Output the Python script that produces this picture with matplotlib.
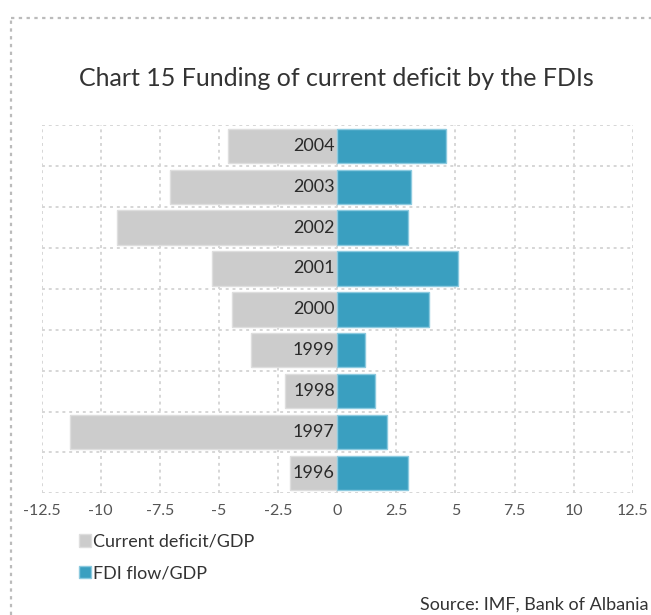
import matplotlib.pyplot as plt
from matplotlib.lines import Line2D
from matplotlib.patches import Patch

years = ["1996", "1997", "1998", "1999", "2000", "2001", "2002", "2003", "2004"]
deficit = [-1.98, -11.3, -2.2, -3.65, -4.46, -5.3, -9.33, -7.07, -4.63]
fdi = [3.0, 2.12, 1.61, 1.19, 3.9, 5.09, 3.0, 3.14, 4.58]
xticks = [-12.5, -10, -7.5, -5, -2.5, 0, 2.5, 5, 7.5, 10, 12.5]
xlabels = ["-12.5", "-10", "-7.5", "-5", "-2.5", "0", "2.5", "5", "7.5", "10", "12.5"]

plt.rcParams['font.family'] = ['Lato', 'DejaVu Sans']

grey = "#cccccc"
blue = "#3a9fc0"
grid_col = "#d6d6d6"
dots = (0, (1.5, 2))

fig = plt.figure(figsize=(6.51, 6.15), dpi=100)
ax = fig.add_axes([0.064, 0.198, 0.908, 0.598])

pos = list(range(len(years)))
ax.barh(pos, deficit, height=0.84, color=grey, edgecolor="#dedede", linewidth=1, zorder=2)
ax.barh(pos, fdi, height=0.84, color=blue, edgecolor="#8ccadf", linewidth=1, zorder=2)

for p, y in zip(pos, years):
    ax.text(-0.1, p, y, ha="right", va="center", fontsize=13, color="#2a2a2a", zorder=3)

ax.set_xlim(-12.5, 12.5)
ax.set_ylim(-0.5, len(years) - 0.5)
ax.set_xticks(xticks)
ax.set_xticklabels(xlabels, fontsize=11.5, color="#555555")
ax.set_yticks([])
ax.tick_params(axis="x", length=0, pad=8)

# dotted grid: verticals at ticks, horizontals between categories
for x in xticks:
    ax.axvline(x, color=grid_col, linestyle=dots, linewidth=1.4, zorder=1)
for k in range(len(years) + 1):
    ax.axhline(k - 0.5, color=grid_col, linestyle=dots, linewidth=1.4, zorder=1)
for s in ax.spines.values():
    s.set_visible(False)

fig.text(0.516, 0.873, "Chart 15 Funding of current deficit by the FDIs",
         ha="center", va="center", fontsize=18, color="#333333")

handles = [Patch(facecolor=grey, edgecolor="#dedede"),
           Patch(facecolor=blue, edgecolor="#8ccadf")]
fig.legend(handles, ["Current deficit/GDP", "FDI flow/GDP"],
           loc="upper left", bbox_to_anchor=(0.121, 0.132), frameon=False,
           fontsize=13, handlelength=0.65, handleheight=0.65, handletextpad=0.15,
           labelspacing=0.85, borderaxespad=0, borderpad=0, labelcolor="#333333")

fig.text(0.996, 0.017, "Source: IMF, Bank of Albania", ha="right", va="center",
         fontsize=13, color="#333333")

# dotted frame around the whole chart
fig.add_artist(Line2D([0.017, 1.0], [0.971, 0.971], transform=fig.transFigure,
                      color="#bbbbbb", linestyle=dots, linewidth=1.6))
fig.add_artist(Line2D([0.017, 0.017], [0.0, 0.971], transform=fig.transFigure,
                      color="#bbbbbb", linestyle=dots, linewidth=1.6))

fig.savefig("out.png", dpi=100)
